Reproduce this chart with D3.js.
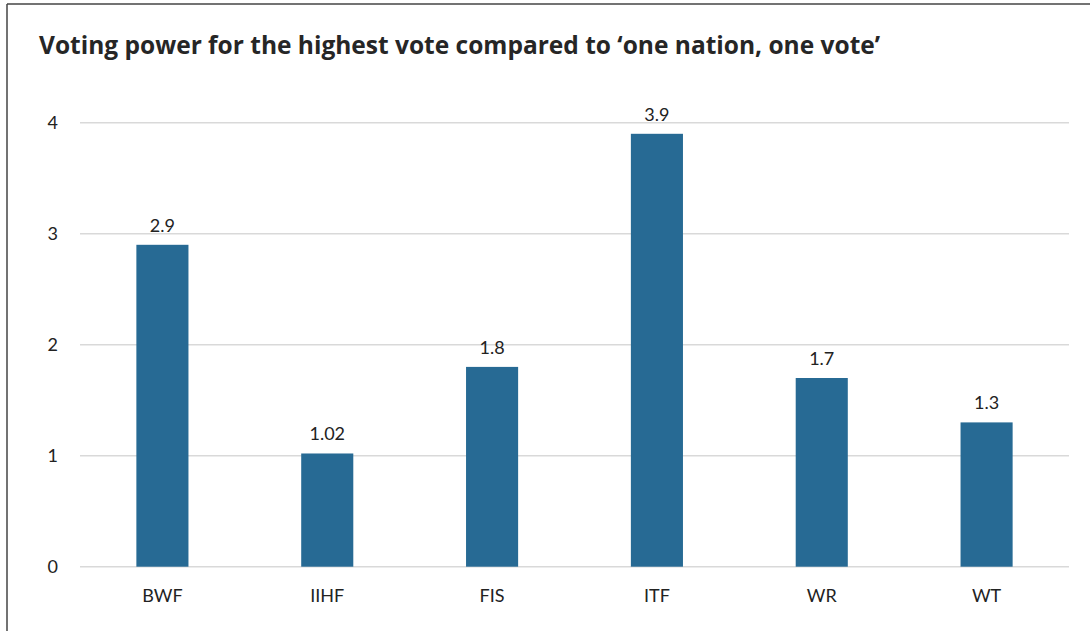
<!DOCTYPE html>
<html><head><meta charset="utf-8">
<script src="https://cdn.jsdelivr.net/npm/d3@7"></script>
<style>html,body{margin:0;padding:0;background:#fff;}svg{display:block;}</style>
</head><body>
<svg id="c" width="1090" height="631"></svg>
<script>
const categories = ["BWF","IIHF","FIS","ITF","WR","WT"];
const values = [2.9,1.02,1.8,3.9,1.7,1.3];
const valueLabels = ["2.9","1.02","1.8","3.9","1.7","1.3"];
const yTicks = [0,1,2,3,4];
const title = "Voting power for the highest vote compared to \u2018one nation, one vote\u2019";

const svg = d3.select("#c");
const font = "Lato, 'Open Sans', sans-serif";
// frame (top and left edges visible)
svg.append("line").attr("x1",7).attr("x2",1090).attr("y1",4).attr("y2",4).attr("stroke","#444").attr("stroke-width",1.5);
svg.append("line").attr("x1",7).attr("x2",7).attr("y1",4).attr("y2",631).attr("stroke","#444").attr("stroke-width",1.5);

svg.append("text").attr("x",39).attr("y",54).text(title)
  .attr("font-family","'Open Sans', sans-serif").attr("font-weight","bold").attr("font-size",24.5).attr("fill","#262626");

const x = d3.scaleBand().domain(categories).range([80,1069]).paddingInner(0.684).paddingOuter(0.342);
const y = d3.scaleLinear().domain([0,4]).range([566.7,122.7]);

const g = svg.append("g");
g.selectAll("line.grid").data(yTicks).enter().append("line")
  .attr("x1",80).attr("x2",1069).attr("y1",d=>y(d)).attr("y2",d=>y(d))
  .attr("stroke","#d9d9d9").attr("stroke-width",1.5);
g.selectAll("text.yt").data(yTicks).enter().append("text")
  .attr("x",58).attr("y",d=>y(d)+6.5).attr("text-anchor","end").text(d=>d)
  .attr("font-family",font).attr("font-size",18).attr("fill","#222");

g.selectAll("rect").data(values).enter().append("rect")
  .attr("x",(d,i)=>x(categories[i])).attr("width",x.bandwidth())
  .attr("y",d=>y(d)).attr("height",d=>y(0)-y(d)).attr("fill","#276a94");

g.selectAll("text.vl").data(values).enter().append("text")
  .attr("x",(d,i)=>x(categories[i])+x.bandwidth()/2).attr("y",d=>y(d)-13)
  .attr("text-anchor","middle").text((d,i)=>valueLabels[i])
  .attr("font-family",font).attr("font-size",18).attr("fill","#222");

g.selectAll("text.cat").data(categories).enter().append("text")
  .attr("x",d=>x(d)+x.bandwidth()/2).attr("y",602)
  .attr("text-anchor","middle").text(d=>d)
  .attr("font-family",font).attr("font-size",18).attr("fill","#222");
</script>
</body></html>
